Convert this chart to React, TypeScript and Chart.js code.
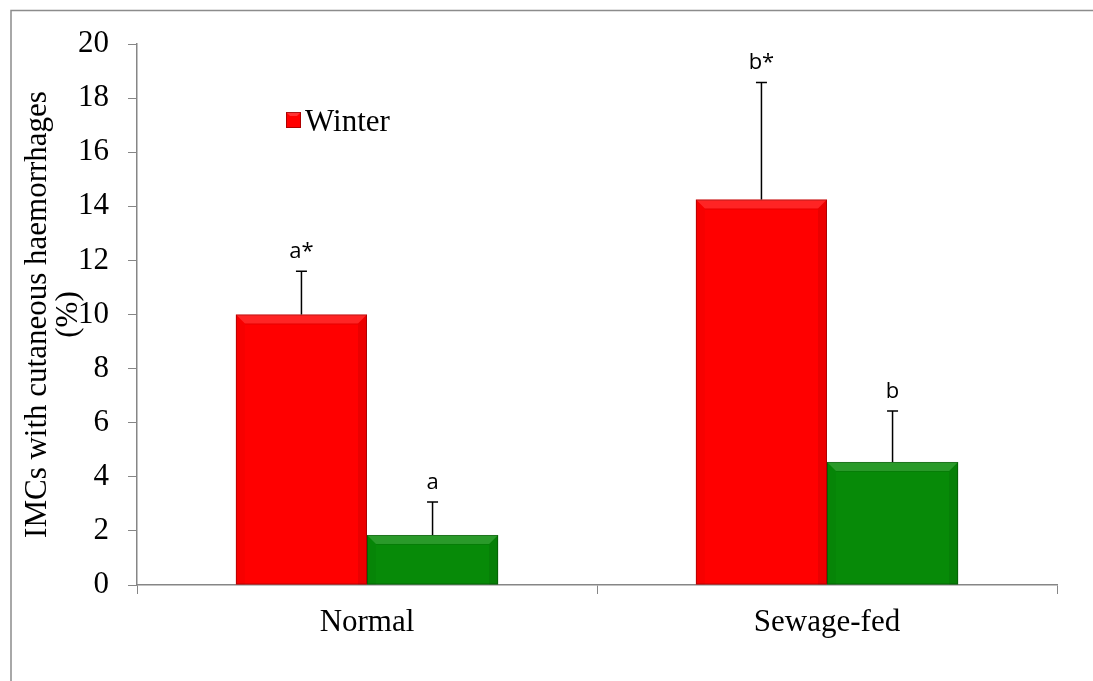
import React, { useEffect, useRef } from "react";
import { Chart, registerables } from "chart.js";

Chart.register(...registerables);

const categories = ["Normal", "Sewage-fed"];
const seriesNames = ["Winter", "Summer"];
const winterValues = [10.0, 14.25];
const winterErrors = [1.6, 4.33];
const summerValues = [1.85, 4.55];
const summerErrors = [1.22, 1.88];
const winterLetters = ["a*", "b*"];
const summerLetters = ["a", "b"];
const yTicksMin = 0;
const yTicksMax = 20;
const yTickStep = 2;
const yTitle = ["IMCs with cutaneous haemorrhages", "(%)"];

const SERIF = "'Liberation Serif', 'Times New Roman', serif";
const SANS = "'Open Sans', Lato, 'Liberation Sans', sans-serif";

const frameAndBevel = {
  id: "frameAndBevel",
  beforeDraw(chart: any) {
    const ctx = chart.ctx;
    ctx.save();
    ctx.fillStyle = "#ffffff";
    ctx.fillRect(0, 0, chart.width, chart.height);
    ctx.strokeStyle = "#8c8c8c";
    ctx.lineWidth = 1.5;
    ctx.beginPath();
    ctx.moveTo(11, chart.height);
    ctx.lineTo(11, 10.5);
    ctx.lineTo(chart.width, 10.5);
    ctx.stroke();
    ctx.restore();
  },
  afterDatasetDraw(chart: any, args: any) {
    const ctx = chart.ctx;
    const meta = args.meta;
    meta.data.forEach((bar: any) => {
      const { x, y, base, width } = bar.getProps(["x", "y", "base", "width"], true);
      const L = x - width / 2;
      const R = x + width / 2;
      const T = y;
      const B = base;
      const b = 9;
      ctx.save();
      ctx.fillStyle = "rgba(255,255,255,0.14)";
      ctx.beginPath();
      ctx.moveTo(L, T);
      ctx.lineTo(R, T);
      ctx.lineTo(R - b, T + b);
      ctx.lineTo(L + b, T + b);
      ctx.closePath();
      ctx.fill();
      ctx.fillStyle = "rgba(0,0,0,0.03)";
      ctx.beginPath();
      ctx.moveTo(L, T);
      ctx.lineTo(L + b, T + b);
      ctx.lineTo(L + b, B);
      ctx.lineTo(L, B);
      ctx.closePath();
      ctx.fill();
      ctx.fillStyle = "rgba(0,0,0,0.08)";
      ctx.beginPath();
      ctx.moveTo(R, T);
      ctx.lineTo(R - b, T + b);
      ctx.lineTo(R - b, B);
      ctx.lineTo(R, B);
      ctx.closePath();
      ctx.fill();
      ctx.strokeStyle = "rgba(0,0,0,0.10)";
      ctx.lineWidth = 1;
      ctx.beginPath();
      ctx.moveTo(L + b, T + b + 0.5);
      ctx.lineTo(R - b, T + b + 0.5);
      ctx.stroke();
      ctx.strokeStyle = "rgba(0,0,0,0.25)";
      ctx.strokeRect(L + 0.5, T + 0.5, width - 1, B - T - 1);
      ctx.restore();
    });
  },
};

const errorBarsAndLabels = {
  id: "errorBarsAndLabels",
  afterDatasetsDraw(chart: any) {
    const ctx = chart.ctx;
    const yScale = chart.scales.y;
    const errs = [winterErrors, summerErrors];
    const vals = [winterValues, summerValues];
    const letters = [winterLetters, summerLetters];
    chart.data.datasets.forEach((ds: any, di: number) => {
      const meta = chart.getDatasetMeta(di);
      meta.data.forEach((bar: any, i: number) => {
        const x = bar.x;
        const yTop = yScale.getPixelForValue(vals[di][i]);
        const yErr = yScale.getPixelForValue(vals[di][i] + errs[di][i]);
        ctx.save();
        ctx.strokeStyle = "#000000";
        ctx.lineWidth = 1.5;
        ctx.beginPath();
        ctx.moveTo(x, yTop);
        ctx.lineTo(x, yErr);
        ctx.moveTo(x - 5.5, yErr);
        ctx.lineTo(x + 5.5, yErr);
        ctx.stroke();
        ctx.fillStyle = "#000000";
        ctx.font = "22px " + SANS;
        ctx.textAlign = "center";
        ctx.textBaseline = "alphabetic";
        ctx.fillText(letters[di][i], x, yErr - 13);
        ctx.restore();
      });
    });
    const lx = 286;
    const ly = 112;
    ctx.save();
    ctx.fillStyle = "#ff0000";
    ctx.fillRect(lx, ly, 15, 16);
    ctx.fillStyle = "rgba(255,255,255,0.2)";
    ctx.beginPath();
    ctx.moveTo(lx, ly);
    ctx.lineTo(lx + 15, ly);
    ctx.lineTo(lx + 11, ly + 4);
    ctx.lineTo(lx + 4, ly + 4);
    ctx.closePath();
    ctx.fill();
    ctx.strokeStyle = "rgba(120,0,0,0.6)";
    ctx.lineWidth = 1;
    ctx.strokeRect(lx + 0.5, ly + 0.5, 14, 15);
    ctx.fillStyle = "#000000";
    ctx.font = "31px " + SERIF;
    ctx.textAlign = "left";
    ctx.textBaseline = "alphabetic";
    ctx.fillText(chart.data.datasets[0].label, 305, 131);
    ctx.restore();
  },
};

export default function App() {
  const ref = useRef<HTMLCanvasElement | null>(null);
  useEffect(() => {
    if (!ref.current) return;
    const chart = new Chart(ref.current, {
      type: "bar",
      data: {
        labels: categories,
        datasets: [
          {
            label: seriesNames[0],
            data: winterValues,
            backgroundColor: "#ff0000",
            borderWidth: 0,
          },
          {
            label: seriesNames[1],
            data: summerValues,
            backgroundColor: "#078a08",
            borderWidth: 0,
          },
        ],
      },
      options: {
        responsive: false,
        animation: false,
        devicePixelRatio: 1,
        layout: { padding: { left: 14, top: 44, right: 36, bottom: 0 } },
        datasets: { bar: { categoryPercentage: 0.57, barPercentage: 1.0 } },
        plugins: {
          legend: { display: false },
          tooltip: { enabled: false },
        },
        scales: {
          x: {
            grid: {
              drawOnChartArea: false,
              drawTicks: true,
              tickLength: 9,
              color: "#868686",
              offset: true,
            },
            border: { color: "#868686", width: 1.5 },
            ticks: {
              color: "#000000",
              font: { family: SERIF, size: 31 },
              padding: 10,
            },
            afterFit: (scale: any) => {
              scale.height = 96;
            },
          },
          y: {
            min: yTicksMin,
            max: yTicksMax,
            ticks: {
              stepSize: yTickStep,
              color: "#000000",
              font: { family: SERIF, size: 31 },
              padding: 19,
            },
            grid: {
              drawOnChartArea: false,
              drawTicks: true,
              tickLength: 9,
              color: "#868686",
            },
            border: { color: "#868686", width: 1.5 },
            title: {
              display: true,
              text: yTitle,
              color: "#000000",
              font: { family: SERIF, size: 31, lineHeight: 1.0 },
              padding: { top: 8, bottom: 0 },
            },
            afterFit: (scale: any) => {
              scale.width = 137 - 14;
            },
          },
        },
      },
      plugins: [frameAndBevel, errorBarsAndLabels],
    });
    return () => chart.destroy();
  }, []);
  return (
    <div style={{ position: "fixed", left: 0, top: 0, width: 1093, height: 681, background: "#fff" }}>
      <canvas ref={ref} width={1093} height={681} style={{ display: "block" }} />
    </div>
  );
}
